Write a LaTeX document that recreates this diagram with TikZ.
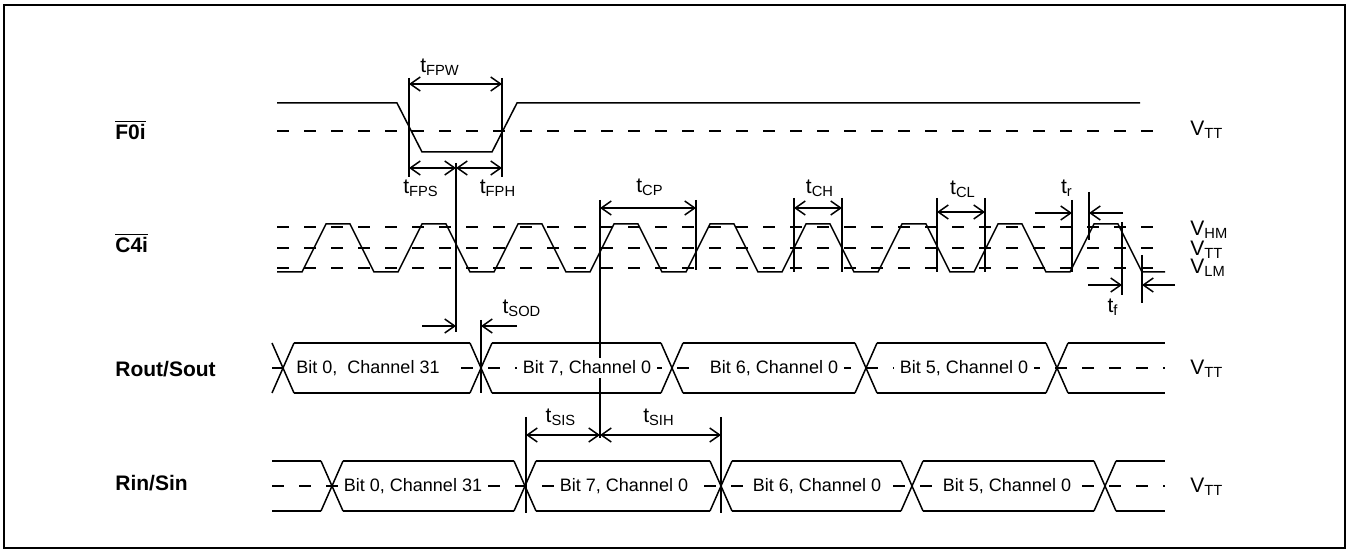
\documentclass[tikz,border=0pt]{standalone}
\usepackage{fontspec}
\setmainfont{Liberation Sans}
\usetikzlibrary{arrows.meta}
\tikzstyle{wave} = [line width=0.75pt]
\tikzstyle{level} = [line width=0.75pt, dash pattern=on 6pt off 7.5pt]
\tikzstyle{markline} = [line width=0.75pt]
\tikzstyle{dim} = [line width=0.75pt, -{Straight Barb[length=5pt,width=7pt]}]
\tikzstyle{dimboth} = [line width=0.75pt, {Straight Barb[length=5pt,width=7pt]}-{Straight Barb[length=5pt,width=7pt]}]
\tikzstyle{every node}=[font=\fontsize{10.5}{12}\selectfont]
\tikzstyle{tlabel} = [inner sep=0pt]
\tikzstyle{vlabel} = [anchor=west, inner sep=0pt]
\tikzstyle{signame} = [anchor=west, inner sep=0pt, font=\fontsize{10.5}{12}\selectfont\bfseries]
\tikzstyle{bittext} = [fill=white, inner xsep=3pt, inner ysep=1pt, font=\fontsize{9}{11}\selectfont]
\newcommand{\barsig}[1]{$\overline{\hbox{\bfseries #1}}$}

\begin{document}
\begin{tikzpicture}[x=0.5pt, y=-0.5pt]
    \useasboundingbox (0,0) rectangle (1349,550);
    \draw [line width=1pt] (4,5) rectangle (1345,548);

    % Signal names
    \node [signame] (f0i) at (115,130) {\barsig{F0i}};
    \node [signame] (c4i) at (115,243) {\barsig{C4i}};
    \node [signame] (rout) at (115,369) {Rout/Sout};
    \node [signame] (rin) at (115,483) {Rin/Sin};

    % Reference levels
    \draw [level] (277,131) -- (1165,131);
    \draw [level] (277,227) -- (1165,227);
    \draw [level] (277,248) -- (1165,248);
    \draw [level] (277,268) -- (1165,268);
    \draw [level] (272,368) -- (1165,368);
    \draw [level] (272,486) -- (1165,486);
    \node [vlabel] (vtt1) at (1190,130) {V\textsubscript{TT}};
    \node [vlabel] (vhm) at (1190,230) {V\textsubscript{HM}};
    \node [vlabel] (vtt2) at (1190,250) {V\textsubscript{TT}};
    \node [vlabel] (vlm) at (1190,268) {V\textsubscript{LM}};
    \node [vlabel] (vtt3) at (1190,369) {V\textsubscript{TT}};
    \node [vlabel] (vtt4) at (1190,487) {V\textsubscript{TT}};

    % Frame pulse
    \draw [wave] (277,103) -- (397,103) -- (422,152) -- (492,152) -- (517,103) -- (1140,103);

    % Clock
    \draw [wave] (277,272) foreach \k in {0,...,8} {
        -- ({302+96*\k},272) -- ({326+96*\k},224) -- ({350+96*\k},224) -- ({374+96*\k},272)
    } -- (1165,272);

    % Marker lines
    \foreach \n/\x/\ya/\yb in {fpl/409/78/177, fpr/502/78/177, fps/456/163/332,
        cpl/600/200/438, cpr/696/200/270, chl/794/198/272, chr/842/198/272,
        cll/937/198/272, clr/985/198/272, trl/1072/200/272, trr/1089/192/240,
        tfl/1122/222/295, tfr/1142/255/303, sod/481/320/393,
        sis/526/417/513, sih/721/417/513} {
        \coordinate (\n-t) at (\x,\ya);
        \coordinate (\n-b) at (\x,\yb);
        \draw [markline] (\n-t) -- (\n-b);
    }

    % Timing arrows
    \draw [dimboth] (fpl-t |- 0,84) -- (fpr-t |- 0,84);
    \draw [dimboth] (fpl-t |- 0,168) -- (fps-t |- 0,168);
    \draw [dimboth] (fps-t |- 0,168) -- (fpr-t |- 0,168);
    \draw [dimboth] (cpl-t |- 0,208) -- (cpr-t |- 0,208);
    \draw [dimboth] (chl-t |- 0,208) -- (chr-t |- 0,208);
    \draw [dimboth] (cll-t |- 0,212) -- (clr-t |- 0,212);
    \draw [dim] (1035,213) -- (trl-t |- 0,213);
    \draw [dim] (1123,213) -- (trr-t |- 0,213);
    \draw [dim] (1088,285) -- (tfl-t |- 0,285);
    \draw [dim] (1175,285) -- (tfr-t |- 0,285);
    \draw [dim] (422,326) -- (fps-t |- 0,326);
    \draw [dim] (517,326) -- (sod-t |- 0,326);
    \draw [dimboth] (sis-t |- 0,435) -- (cpl-t |- 0,435);
    \draw [dimboth] (cpl-t |- 0,435) -- (sih-t |- 0,435);

    \node [tlabel] (tfpw) at (440,67) {t\textsubscript{FPW}};
    \node [tlabel] (tfps) at (421,188) {t\textsubscript{FPS}};
    \node [tlabel] (tfph) at (498,188) {t\textsubscript{FPH}};
    \node [tlabel] (tcp) at (650,187) {t\textsubscript{CP}};
    \node [tlabel] (tch) at (820,188) {t\textsubscript{CH}};
    \node [tlabel] (tcl) at (963,189) {t\textsubscript{CL}};
    \node [tlabel] (tr) at (1067,188) {t\textsubscript{r}};
    \node [tlabel] (tf) at (1113,307) {t\textsubscript{f}};
    \node [tlabel] (tsod) at (522,308) {t\textsubscript{SOD}};
    \node [tlabel] (tsis) at (561,417) {t\textsubscript{SIS}};
    \node [tlabel] (tsih) at (659,417) {t\textsubscript{SIH}};

    % Data buses
    \node [bittext] (ro0) at (368,368) {Bit 0,\ \ Channel 31};
    \node [bittext] (ro7) at (587,368) {Bit 7, Channel 0};
    \node [bittext] (ro6) at (774,368) {Bit 6, Channel 0};
    \node [bittext] (ro5) at (964,368) {Bit 5, Channel 0};
    \node [bittext] (ri0) at (413,486) {Bit 0, Channel 31};
    \node [bittext] (ri7) at (624,486) {Bit 7, Channel 0};
    \node [bittext] (ri6) at (817,486) {Bit 6, Channel 0};
    \node [bittext] (ri5) at (1007,486) {Bit 5, Channel 0};

    \foreach \c in {283,481,672,866,1057}
        \draw [wave] ({\c-11},343) -- ({\c+11},393) ({\c-11},393) -- ({\c+11},343);
    \foreach \a/\b in {283/481,481/672,672/866,866/1057,1057/1176}
        \draw [wave] ({\a+11},343) -- ({\b-11},343) ({\a+11},393) -- ({\b-11},393);

    \foreach \c in {332,525,721,912,1105}
        \draw [wave] ({\c-11},461) -- ({\c+11},511) ({\c-11},511) -- ({\c+11},461);
    \foreach \a/\b in {261/332,332/525,525/721,721/912,912/1105,1105/1176}
        \draw [wave] ({\a+11},461) -- ({\b-11},461) ({\a+11},511) -- ({\b-11},511);

\end{tikzpicture}
\end{document}
